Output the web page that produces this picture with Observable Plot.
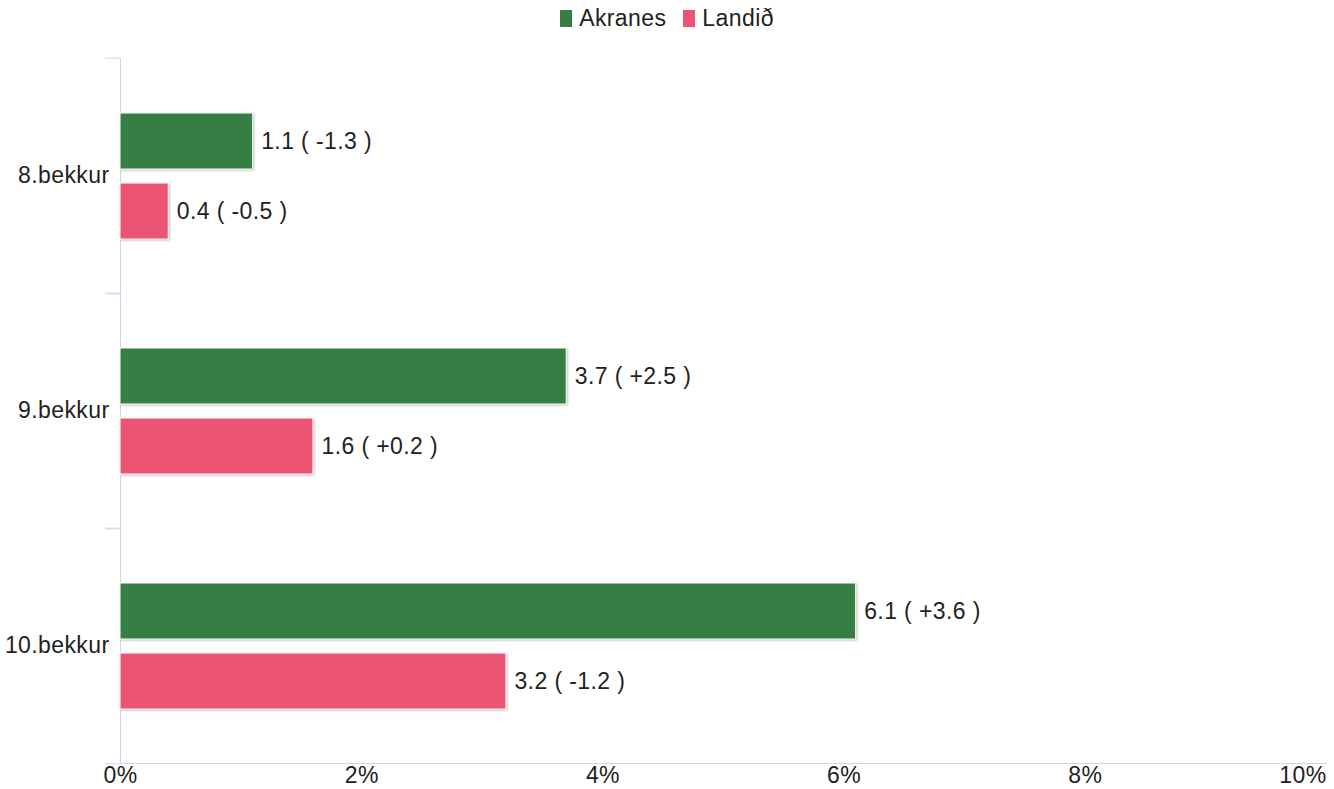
<!DOCTYPE html>
<html><head><meta charset="utf-8">
<script src="https://cdn.jsdelivr.net/npm/d3@7"></script>
<script src="https://cdn.jsdelivr.net/npm/@observablehq/plot@0.6"></script>
<style>
body{margin:0;background:#fff;font-family:"Liberation Sans",Arial,sans-serif;}
#legend{height:36px;display:flex;justify-content:center;align-items:center;}
#legend .lg-swatches{margin:0;font-family:"Liberation Sans",Arial,sans-serif;font-size:23px;letter-spacing:0.4px;color:#222;min-height:0;}
#legend .lg-swatch{margin-right:17px;}
#legend .lg-swatch:last-child{margin-right:0;}
#legend .lg-swatch > svg{margin-right:7px;}
#chart svg text{letter-spacing:0.4px;}
#chart svg g[aria-label="bar"] rect{filter:drop-shadow(1px 1px 1px rgba(0,0,0,0.25));}
</style></head>
<body>
<div id="legend"></div>
<div id="chart"></div>
<script>
const categories = ["8.bekkur", "9.bekkur", "10.bekkur"];
const series = ["Akranes", "Landið"];
const colors = ["#377e45", "#eb5472"];
const akranes = [1.1, 3.7, 6.1];
const akranesChange = [-1.3, 2.5, 3.6];
const landid = [0.4, 1.6, 3.2];
const landidChange = [-0.5, 0.2, -1.2];
const xTicks = [0, 2, 4, 6, 8, 10];

const fmtChange = v => (v > 0 ? "+" : "") + v.toFixed(1);
const rows = [];
categories.forEach((c, i) => {
  rows.push({category: c, series: series[0], value: akranes[i], label: `${akranes[i].toFixed(1)} ( ${fmtChange(akranesChange[i])} )`});
  rows.push({category: c, series: series[1], value: landid[i], label: `${landid[i].toFixed(1)} ( ${fmtChange(landidChange[i])} )`});
});

const W = 1334, H = 753, mt = 21, mb = 25, ml = 120, mr = 8;
const bandH = (H - mt - mb) / categories.length;
const axisColor = "#ccd6eb";
const textColor = "#222";
const fs = 23;

const chart = Plot.plot({
  width: W, height: H,
  marginTop: mt, marginBottom: mb, marginLeft: ml, marginRight: mr,
  style: {fontFamily: "Liberation Sans, Arial, sans-serif", fontSize: fs + "px", background: "#fff"},
  x: {domain: [0, 10]},
  y: {domain: series, paddingInner: 0.2, paddingOuter: 0.77, axis: null},
  fy: {domain: categories, padding: 0},
  color: {domain: series, range: colors},
  marks: [
    Plot.frame({anchor: "left", stroke: axisColor}),
    Plot.frame({anchor: "bottom", stroke: axisColor, facetAnchor: "bottom"}),
    Plot.axisFy({anchor: "left", tickSize: 0, tickPadding: 11, fontSize: fs, fill: textColor, label: null}),
    Plot.axisFy({anchor: "left", tickSize: 15, tickFormat: () => "", stroke: axisColor, dy: -bandH / 2, label: null}),
    Plot.axisFy({anchor: "left", tickSize: 15, tickFormat: () => "", stroke: axisColor, dy: bandH / 2, label: null}),
    Plot.axisX(xTicks.slice(0, -1), {tickSize: 0, tickPadding: 3, tickFormat: d => d + "%", fontSize: fs, fill: textColor, label: null}),
    Plot.axisX(xTicks.slice(-1), {tickSize: 0, tickPadding: 3, tickFormat: d => d + "%", fontSize: fs, fill: textColor, textAnchor: "end", label: null}),
    Plot.barX(rows, {x: "value", y: "series", fy: "category", fill: "series", stroke: "white", strokeWidth: 1}),
    Plot.text(rows, {x: "value", y: "series", fy: "category", text: "label", textAnchor: "start", dx: 8, fontSize: fs, fill: textColor})
  ]
});
document.getElementById("chart").appendChild(chart);

const legend = Plot.legend({
  color: {domain: series, range: colors},
  legend: "swatches",
  swatchWidth: 12, swatchHeight: 17,
  className: "lg"
});
document.getElementById("legend").appendChild(legend);
</script>
</body></html>
